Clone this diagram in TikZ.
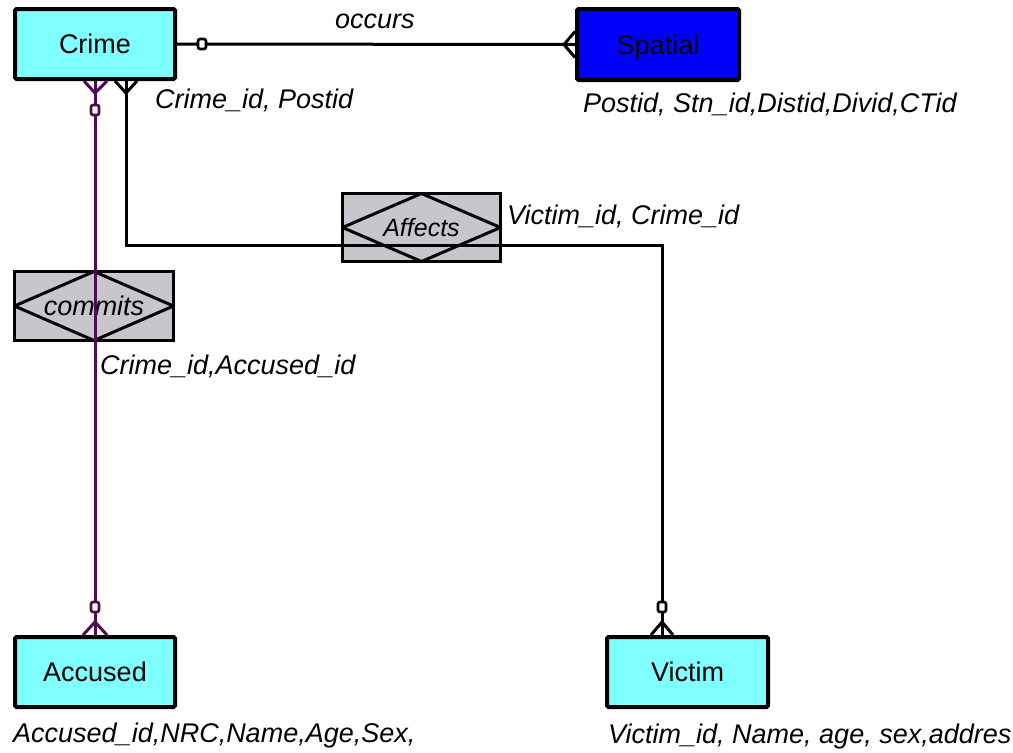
\documentclass[tikz,border=0pt]{standalone}
\usepackage{fontspec}
\setmainfont{Liberation Sans}
\usetikzlibrary{calc}
\definecolor{entcyan}{RGB}{128,255,255}
\definecolor{entblue}{RGB}{0,0,255}
\definecolor{relgray}{RGB}{200,198,204}
\definecolor{plum}{RGB}{80,10,80}
\begin{document}
\begin{tikzpicture}[x=1pt,y=-1pt,
  entity/.style={draw=black, line width=4pt, rounded corners=1.5pt,
    minimum width=160pt, minimum height=70pt, inner sep=0pt,
    text height=19.5pt, text depth=0pt, font=\fontsize{27}{32}\selectfont},
  rel/.style={draw=black, line width=3pt, fill=relgray, inner sep=0pt, outer sep=0pt},
  conn/.style={line width=3pt},
  ring/.style={draw, fill=white, line width=2.6pt, rounded corners=2pt,
    minimum width=8pt, minimum height=10pt, inner sep=0pt},
  attr/.style={anchor=base west, inner sep=0pt, font=\fontsize{27}{32}\selectfont\itshape}]
\useasboundingbox (0,0) rectangle (1013,753);

% entities
\node[entity, fill=entcyan] (crime) at (95,44) {Crime};
\node[entity, fill=entblue, minimum width=162pt, minimum height=71pt] (spatial) at (658,44.5) {Spatial};
\node[entity, fill=entcyan] (accused) at (95,672) {Accused};
\node[entity, fill=entcyan, minimum width=161pt] (victim) at (687.5,672) {Victim};

% relationships: grey box with a diamond inside
\node[rel, minimum width=158pt, minimum height=68pt, font=\fontsize{25}{30}\selectfont\itshape] (affects) at (421.5,227.5) {Affects};
\draw[line width=3pt, line join=round] (affects.west) -- (affects.north) -- (affects.east) -- (affects.south) -- cycle;
\node[rel, minimum width=159pt, minimum height=69pt, font=\fontsize{27}{32}\selectfont\itshape] (commits) at (94,306) {commits};
\draw[line width=3pt, line join=round] (commits.west) -- (commits.north) -- (commits.east) -- (commits.south) -- cycle;

% Crime -- Spatial (occurs)
\draw[conn] (crime.east) -- (spatial.west);
\draw[conn] ($(spatial.west)+(0,-13)$) -- ($(spatial.west)+(-11,0)$) -- ($(spatial.west)+(0,13)$);
\node[ring] (occring) at ($(crime.east)+(25,0)$) {};

% Crime -- Accused (commits)
\draw[conn, plum] (crime.south) -- (accused.north);
\draw[conn, plum] ($(crime.south)+(-11,0)$) -- ($(crime.south)+(0,12)$) -- ($(crime.south)+(12,0)$);
\node[ring, draw=plum] (comring1) at ($(crime.south)+(0,29)$) {};
\draw[conn, plum] ($(accused.north)+(-12,0)$) -- ($(accused.north)+(0,-13)$) -- ($(accused.north)+(12,0)$);
\node[ring, draw=plum] (comring2) at ($(accused.north)+(0,-28)$) {};

% Crime -- Victim (affects)
\coordinate (ctop) at ($(crime.south)+(31,0)$);
\coordinate (vtop) at ($(victim.north)+(-25.5,0)$);
\coordinate (turn) at ($(ctop)+(0,164)$);
\draw[conn] (ctop) -- (turn) -| (vtop);
\draw[conn] ($(ctop)+(-11,0)$) -- ($(ctop)+(0,12)$) -- ($(ctop)+(11,0)$);
\draw[conn] ($(vtop)+(-11,0)$) -- ($(vtop)+(0,-13)$) -- ($(vtop)+(11,0)$);
\node[ring] (affring) at ($(vtop)+(0,-28)$) {};

% labels
\node[attr] (occlbl) at (335,28) {occurs};
\node[attr] (crimekeys) at (155,108) {Crime\_id, Postid};
\node[attr] (spatialattr) at (583,112) {Postid, Stn\_id,Distid,Divid,CTid};
\node[attr] (affkeys) at (507,224) {Victim\_id, Crime\_id};
\node[attr] (comkeys) at (100,374) {Crime\_id,Accused\_id};
\node[attr] (accattr) at (13,742) {Accused\_id,NRC,Name,Age,Sex,};
\node[attr] (vicattr) at (608,743) {Victim\_id, Name, age, sex,addres};
\end{tikzpicture}
\end{document}
